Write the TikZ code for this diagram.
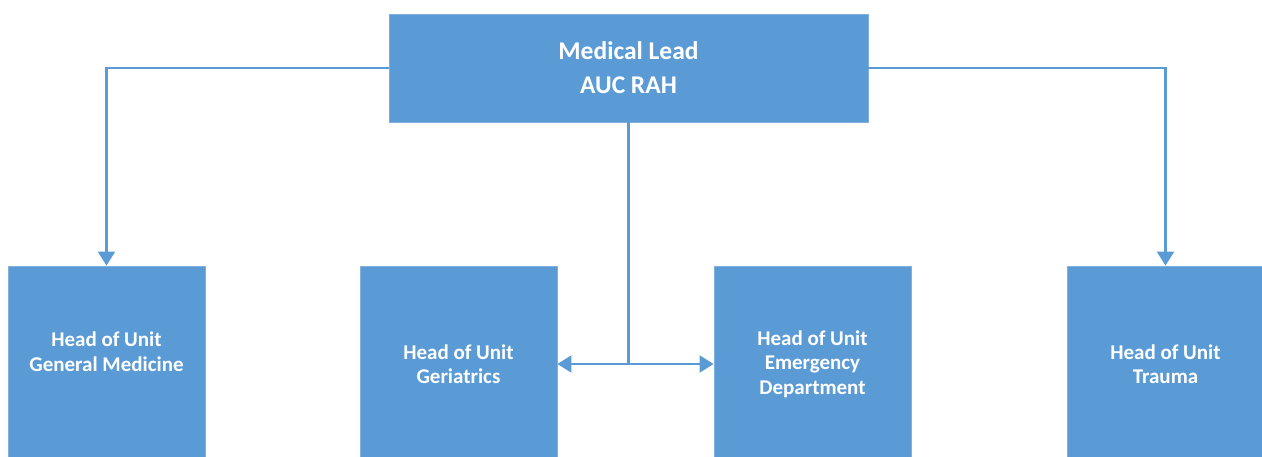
\documentclass[tikz,border=0pt]{standalone}
\usepackage{fontspec}
\setmainfont{Carlito}
\usetikzlibrary{positioning,arrows.meta}
\definecolor{unitblue}{HTML}{5B9BD5}
\definecolor{edgeblue}{HTML}{7FB0DE}

\begin{document}
\begin{tikzpicture}[x=1pt,y=-1pt,
  lead/.style={fill=unitblue,draw=edgeblue,line width=0.8pt,minimum width=479pt,minimum height=108pt,
    text=white,font=\fontsize{25.5}{34}\selectfont\bfseries,align=center,inner sep=0pt},
  unit/.style={fill=unitblue,draw=edgeblue,line width=0.8pt,minimum width=197pt,minimum height=196pt,
    text=white,font=\fontsize{21}{24.5}\selectfont\bfseries,align=center,inner sep=0pt},
  link/.style={draw=unitblue,line width=2.1pt,-{Triangle[length=14pt,width=17pt]}}]
\clip (0,0) rectangle (1262,456);
\useasboundingbox (0,0) rectangle (1262,456);
\node[lead] (lead) at (628.5,68) {Medical Lead\\AUC RAH};
\node[unit] (genmed) at (106.5,364) {Head of Unit\\General Medicine\\\mbox{}};
\node[unit] (geri) at (458.5,364) {Head of Unit\\Geriatrics};
\node[unit] (emerg) at (812.5,364) {Head of Unit\\Emergency\\Department};
\node[unit] (trauma) at (1165.5,364) {Head of Unit\\Trauma};
\coordinate (mid) at (628.5,364);
\draw[link] (lead.west) -| (genmed.north);
\draw[link] (lead.east) -| (trauma.north);
\draw[link,-] (lead.south) -- (mid);
\draw[link,{Triangle[length=14pt,width=17pt]}-{Triangle[length=14pt,width=17pt]}] (geri.east) -- (emerg.west);
\end{tikzpicture}
\end{document}
